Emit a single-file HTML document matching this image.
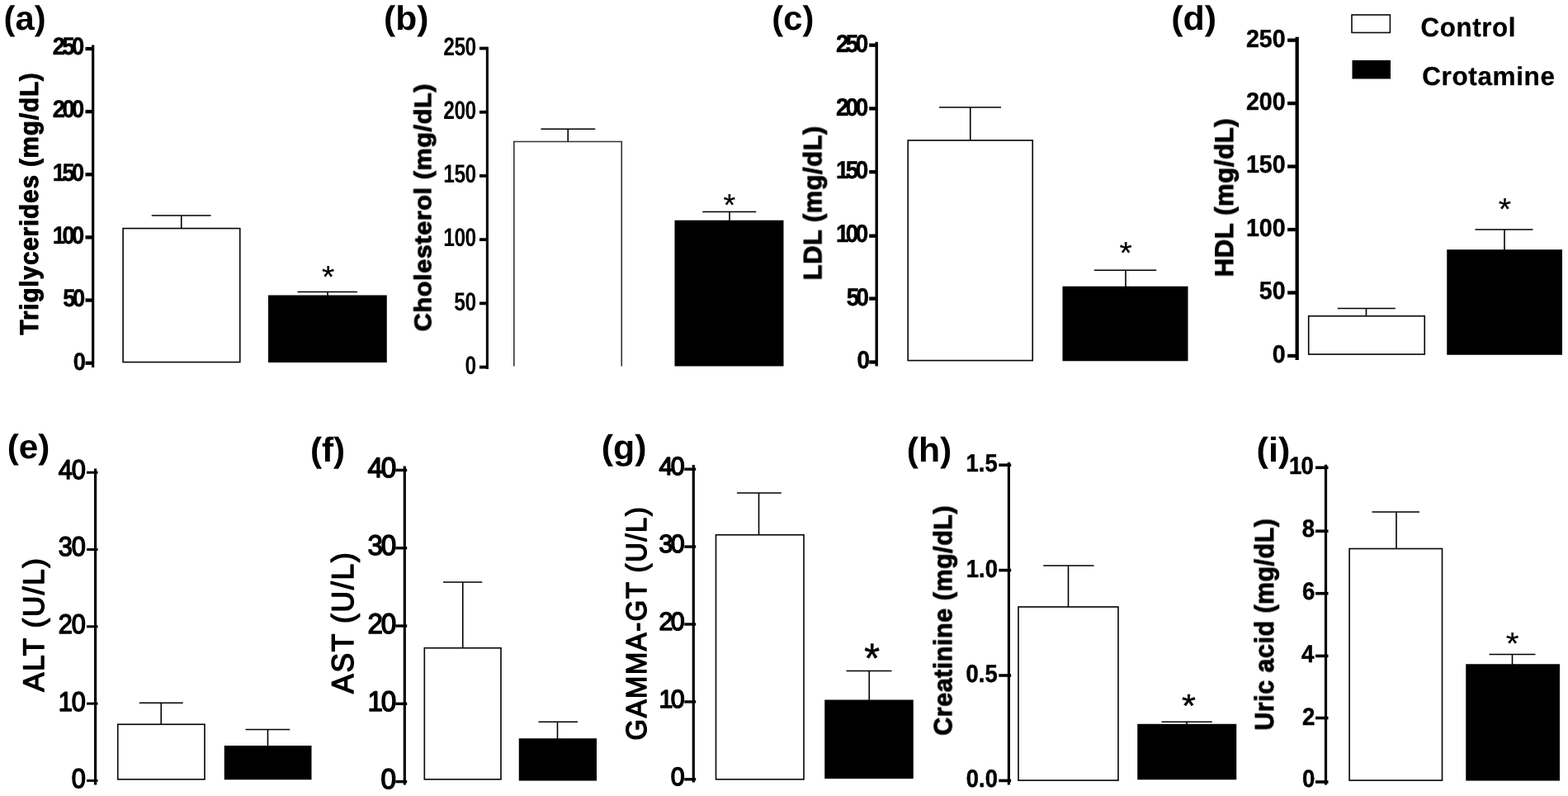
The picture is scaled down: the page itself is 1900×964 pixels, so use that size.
<!DOCTYPE html>
<html lang="en">
<head>
<meta charset="utf-8">
<title>Serum biochemistry: Control vs Crotamine</title>
<style>
html,body{margin:0;padding:0;background:#fff;}
body{width:1900px;height:964px;overflow:hidden;}
svg{display:block;font-family:"Liberation Sans", sans-serif;}
svg text{white-space:pre;}
</style>
</head>
<body>
<svg width="1900" height="964" viewBox="0 0 1900 964" shape-rendering="geometricPrecision" text-rendering="geometricPrecision">
<defs><filter id="soft" x="-2%" y="-2%" width="104%" height="104%" color-interpolation-filters="sRGB"><feGaussianBlur stdDeviation="0.65"/></filter></defs>
<rect width="1900" height="964" fill="#fff"/>
<g filter="url(#soft)">
<g class="panel" id="panel-a">
<text transform="translate(45.85 405.4) rotate(-90) scale(0.95 1)" font-size="31.17" font-weight="bold" letter-spacing="0.03em" fill="#000" stroke="#000" stroke-width="1" stroke-linejoin="round">Triglycerides (mg/dL)</text>
<text transform="matrix(0.92 0 0 1 63.82 65.95)" font-size="29.72" font-weight="bold" letter-spacing="-0.13em" fill="#000" stroke="#000" stroke-width="0.5" stroke-linejoin="round">250</text>
<line x1="103.5" y1="59.06" x2="112.65" y2="59.06" stroke="#000" stroke-width="4.3"/>
<text transform="matrix(0.92 0 0 1 63.82 142.33)" font-size="29.72" font-weight="bold" letter-spacing="-0.13em" fill="#000" stroke="#000" stroke-width="0.5" stroke-linejoin="round">200</text>
<line x1="103.5" y1="135.19" x2="112.65" y2="135.19" stroke="#000" stroke-width="4.3"/>
<text transform="matrix(0.92 0 0 1 63.82 218.71)" font-size="29.72" font-weight="bold" letter-spacing="-0.13em" fill="#000" stroke="#000" stroke-width="0.5" stroke-linejoin="round">150</text>
<line x1="103.5" y1="211.32" x2="112.65" y2="211.32" stroke="#000" stroke-width="4.3"/>
<text transform="matrix(0.92 0 0 1 63.82 295.09)" font-size="29.72" font-weight="bold" letter-spacing="-0.13em" fill="#000" stroke="#000" stroke-width="0.5" stroke-linejoin="round">100</text>
<line x1="103.5" y1="287.44" x2="112.65" y2="287.44" stroke="#000" stroke-width="4.3"/>
<text transform="matrix(0.92 0 0 1 76.28 371.47)" font-size="29.72" font-weight="bold" letter-spacing="-0.13em" fill="#000" stroke="#000" stroke-width="0.5" stroke-linejoin="round">50</text>
<line x1="103.5" y1="363.57" x2="112.65" y2="363.57" stroke="#000" stroke-width="4.3"/>
<text transform="matrix(0.92 0 0 1 88.73 447.85)" font-size="29.72" font-weight="bold" letter-spacing="-0.13em" fill="#000" stroke="#000" stroke-width="0.5" stroke-linejoin="round">0</text>
<line x1="103.5" y1="439.7" x2="112.65" y2="439.7" stroke="#000" stroke-width="4.3"/>
<line x1="112.65" y1="54.6" x2="112.65" y2="445" stroke="#000" stroke-width="3.2"/>
<line x1="219.75" y1="261" x2="219.75" y2="276.78" stroke="#000" stroke-width="1.6"/>
<line x1="183.75" y1="261" x2="255.5" y2="261" stroke="#000" stroke-width="1.6"/>
<rect x="149.1" y="276.6" width="141.65" height="161.95" fill="#fff" stroke="#0a0a0a" stroke-width="1.65"/>
<line x1="397" y1="353.5" x2="397" y2="358.5" stroke="#000" stroke-width="1.6"/>
<line x1="360.5" y1="353.5" x2="433" y2="353.5" stroke="#000" stroke-width="1.6"/>
<rect x="325" y="357.5" width="143.75" height="81.5" fill="#000"/>
<text transform="matrix(1.05 0 0 1 389.91 347.82)" font-size="37.5" font-weight="normal" fill="#000" stroke="#000" stroke-width="0.2" stroke-linejoin="round">*</text>
</g>
<g class="panel" id="panel-b">
<text transform="translate(522.25 401.22) rotate(-90) scale(1.06 1)" font-size="28.83" font-weight="bold" letter-spacing="0.02em" fill="#000" stroke="#000" stroke-width="1" stroke-linejoin="round">Cholesterol (mg/dL)</text>
<text transform="matrix(0.79 0 0 1 537.2 66.8)" font-size="31.13" font-weight="bold" letter-spacing="-0.02em" fill="#000">250</text>
<line x1="581" y1="58.55" x2="590.4" y2="58.55" stroke="#000" stroke-width="3.8"/>
<text transform="matrix(0.79 0 0 1 537.2 144)" font-size="31.13" font-weight="bold" letter-spacing="-0.02em" fill="#000">200</text>
<line x1="581" y1="135.76" x2="590.4" y2="135.76" stroke="#000" stroke-width="3.8"/>
<text transform="matrix(0.79 0 0 1 537.2 221.2)" font-size="31.13" font-weight="bold" letter-spacing="-0.02em" fill="#000">150</text>
<line x1="581" y1="212.97" x2="590.4" y2="212.97" stroke="#000" stroke-width="3.8"/>
<text transform="matrix(0.79 0 0 1 537.2 298.4)" font-size="31.13" font-weight="bold" letter-spacing="-0.02em" fill="#000">100</text>
<line x1="581" y1="290.18" x2="590.4" y2="290.18" stroke="#000" stroke-width="3.8"/>
<text transform="matrix(0.79 0 0 1 550.34 375.6)" font-size="31.13" font-weight="bold" letter-spacing="-0.02em" fill="#000">50</text>
<line x1="581" y1="367.39" x2="590.4" y2="367.39" stroke="#000" stroke-width="3.8"/>
<text transform="matrix(0.79 0 0 1 563.47 452.8)" font-size="31.13" font-weight="bold" letter-spacing="-0.02em" fill="#000">0</text>
<line x1="581" y1="444.6" x2="590.4" y2="444.6" stroke="#000" stroke-width="3.8"/>
<line x1="590.4" y1="56.85" x2="590.4" y2="446.9" stroke="#000" stroke-width="3.1"/>
<line x1="688.25" y1="156.25" x2="688.25" y2="171.7" stroke="#000" stroke-width="1.6"/>
<line x1="655.5" y1="156.25" x2="721.25" y2="156.25" stroke="#000" stroke-width="1.6"/>
<path d="M622.8 443.5 V171.5 H753.25 V443.5" fill="none" stroke="#333" stroke-width="1.6"/>
<line x1="884" y1="256.5" x2="884" y2="267.75" stroke="#000" stroke-width="1.6"/>
<line x1="851.25" y1="256.5" x2="916.25" y2="256.5" stroke="#000" stroke-width="1.6"/>
<rect x="817.5" y="266.75" width="132" height="176.75" fill="#000"/>
<text transform="matrix(1.01 0 0 1 876.62 260.52)" font-size="37.5" font-weight="normal" fill="#000" stroke="#000" stroke-width="0.2" stroke-linejoin="round">*</text>
</g>
<g class="panel" id="panel-c">
<text transform="translate(995.38 339.35) rotate(-90) scale(0.99 1)" font-size="31.06" font-weight="bold" letter-spacing="0.02em" fill="#000" stroke="#000" stroke-width="1" stroke-linejoin="round">LDL (mg/dL)</text>
<text transform="matrix(0.93 0 0 1 1012.98 62.85)" font-size="30" font-weight="bold" letter-spacing="-0.13em" fill="#000" stroke="#000" stroke-width="0.5" stroke-linejoin="round">250</text>
<line x1="1053.2" y1="54.7" x2="1062.2" y2="54.7" stroke="#000" stroke-width="4.3"/>
<text transform="matrix(0.93 0 0 1 1012.98 139.54)" font-size="30" font-weight="bold" letter-spacing="-0.13em" fill="#000" stroke="#000" stroke-width="0.5" stroke-linejoin="round">200</text>
<line x1="1053.2" y1="131.46" x2="1062.2" y2="131.46" stroke="#000" stroke-width="4.3"/>
<text transform="matrix(0.93 0 0 1 1012.98 216.23)" font-size="30" font-weight="bold" letter-spacing="-0.13em" fill="#000" stroke="#000" stroke-width="0.5" stroke-linejoin="round">150</text>
<line x1="1053.2" y1="208.22" x2="1062.2" y2="208.22" stroke="#000" stroke-width="4.3"/>
<text transform="matrix(0.93 0 0 1 1012.98 292.93)" font-size="30" font-weight="bold" letter-spacing="-0.13em" fill="#000" stroke="#000" stroke-width="0.5" stroke-linejoin="round">100</text>
<line x1="1053.2" y1="285.7" x2="1062.2" y2="285.7" stroke="#000" stroke-width="4.3"/>
<text transform="matrix(0.93 0 0 1 1025.7 369.62)" font-size="30" font-weight="bold" letter-spacing="-0.13em" fill="#000" stroke="#000" stroke-width="0.5" stroke-linejoin="round">50</text>
<line x1="1053.2" y1="361.6" x2="1062.2" y2="361.6" stroke="#000" stroke-width="4.3"/>
<text transform="matrix(0.93 0 0 1 1038.41 446.31)" font-size="30" font-weight="bold" letter-spacing="-0.13em" fill="#000" stroke="#000" stroke-width="0.5" stroke-linejoin="round">0</text>
<line x1="1053.2" y1="438.5" x2="1062.2" y2="438.5" stroke="#000" stroke-width="4.3"/>
<line x1="1062.2" y1="50.8" x2="1062.2" y2="443.5" stroke="#000" stroke-width="3.4"/>
<line x1="1175.75" y1="130" x2="1175.75" y2="170.18" stroke="#000" stroke-width="1.6"/>
<line x1="1138" y1="130" x2="1213" y2="130" stroke="#000" stroke-width="1.6"/>
<rect x="1100.2" y="170" width="151.05" height="266.6" fill="#fff" stroke="#0a0a0a" stroke-width="1.65"/>
<line x1="1364" y1="327.25" x2="1364" y2="347.75" stroke="#000" stroke-width="1.6"/>
<line x1="1325.75" y1="327.25" x2="1401.25" y2="327.25" stroke="#000" stroke-width="1.6"/>
<rect x="1287.5" y="346.75" width="152" height="90.5" fill="#000"/>
<text transform="matrix(1.05 0 0 1 1356.56 318.73)" font-size="37.5" font-weight="normal" fill="#000" stroke="#000" stroke-width="0.2" stroke-linejoin="round">*</text>
</g>
<g class="panel" id="panel-d">
<text transform="translate(1494.11 335.36) rotate(-90) scale(0.99 1)" font-size="31.38" font-weight="bold" letter-spacing="0.02em" fill="#000" stroke="#000" stroke-width="1" stroke-linejoin="round">HDL (mg/dL)</text>
<text transform="matrix(0.95 0 0 1 1509.9 56.6)" font-size="30.14" font-weight="bold" fill="#000" stroke="#000" stroke-width="0.4" stroke-linejoin="round">250</text>
<line x1="1560.1" y1="48.7" x2="1571.7" y2="48.7" stroke="#000" stroke-width="4.3"/>
<text transform="matrix(0.95 0 0 1 1509.9 133.04)" font-size="30.14" font-weight="bold" fill="#000" stroke="#000" stroke-width="0.4" stroke-linejoin="round">200</text>
<line x1="1560.1" y1="125.15" x2="1571.7" y2="125.15" stroke="#000" stroke-width="4.3"/>
<text transform="matrix(0.95 0 0 1 1509.9 209.48)" font-size="30.14" font-weight="bold" fill="#000" stroke="#000" stroke-width="0.4" stroke-linejoin="round">150</text>
<line x1="1560.1" y1="201.6" x2="1571.7" y2="201.6" stroke="#000" stroke-width="4.3"/>
<text transform="matrix(0.95 0 0 1 1509.9 285.92)" font-size="30.14" font-weight="bold" fill="#000" stroke="#000" stroke-width="0.4" stroke-linejoin="round">100</text>
<line x1="1560.1" y1="278.05" x2="1571.7" y2="278.05" stroke="#000" stroke-width="4.3"/>
<text transform="matrix(0.95 0 0 1 1525.87 362.36)" font-size="30.14" font-weight="bold" fill="#000" stroke="#000" stroke-width="0.4" stroke-linejoin="round">50</text>
<line x1="1560.1" y1="354.5" x2="1571.7" y2="354.5" stroke="#000" stroke-width="4.3"/>
<text transform="matrix(0.95 0 0 1 1541.83 438.8)" font-size="30.14" font-weight="bold" fill="#000" stroke="#000" stroke-width="0.4" stroke-linejoin="round">0</text>
<line x1="1560.1" y1="430.95" x2="1571.7" y2="430.95" stroke="#000" stroke-width="4.3"/>
<line x1="1571.7" y1="44.8" x2="1571.7" y2="436" stroke="#000" stroke-width="4.3"/>
<line x1="1655.5" y1="373.5" x2="1655.5" y2="382.93" stroke="#000" stroke-width="1.6"/>
<line x1="1620.75" y1="373.5" x2="1690.75" y2="373.5" stroke="#000" stroke-width="1.6"/>
<rect x="1585.7" y="382.75" width="140.55" height="46.31" fill="#fff" stroke="#0a0a0a" stroke-width="1.65"/>
<line x1="1823" y1="278" x2="1823" y2="303.25" stroke="#000" stroke-width="1.6"/>
<line x1="1787.5" y1="278" x2="1857.5" y2="278" stroke="#000" stroke-width="1.6"/>
<rect x="1753.25" y="302.25" width="139.75" height="127.5" fill="#000"/>
<text transform="matrix(1.05 0 0 1 1815.76 266.23)" font-size="37.5" font-weight="normal" fill="#000" stroke="#000" stroke-width="0.2" stroke-linejoin="round">*</text>
</g>
<g class="panel" id="panel-e">
<text transform="translate(52.99 837.65) rotate(-90) scale(0.98 1)" font-size="35.53" font-weight="normal" letter-spacing="0.05em" fill="#000" stroke="#000" stroke-width="1.5" stroke-linejoin="round">ALT (U/L)</text>
<text transform="matrix(0.93 0 0 1 70.74 579.77)" font-size="32.96" font-weight="normal" letter-spacing="-0.03em" fill="#000" stroke="#000" stroke-width="1.5" stroke-linejoin="round">40</text>
<line x1="105" y1="572.2" x2="118.5" y2="572.2" stroke="#000" stroke-width="3"/>
<text transform="matrix(0.93 0 0 1 70.74 673.42)" font-size="32.96" font-weight="normal" letter-spacing="-0.03em" fill="#000" stroke="#000" stroke-width="1.5" stroke-linejoin="round">30</text>
<line x1="105" y1="665.5" x2="118.5" y2="665.5" stroke="#000" stroke-width="3"/>
<text transform="matrix(0.93 0 0 1 70.74 767.07)" font-size="32.96" font-weight="normal" letter-spacing="-0.03em" fill="#000" stroke="#000" stroke-width="1.5" stroke-linejoin="round">20</text>
<line x1="105" y1="758.8" x2="118.5" y2="758.8" stroke="#000" stroke-width="3"/>
<text transform="matrix(0.93 0 0 1 70.74 860.72)" font-size="32.96" font-weight="normal" letter-spacing="-0.03em" fill="#000" stroke="#000" stroke-width="1.5" stroke-linejoin="round">10</text>
<line x1="105" y1="852.1" x2="118.5" y2="852.1" stroke="#000" stroke-width="3"/>
<text transform="matrix(0.93 0 0 1 86.84 954.37)" font-size="32.96" font-weight="normal" letter-spacing="-0.03em" fill="#000" stroke="#000" stroke-width="1.5" stroke-linejoin="round">0</text>
<line x1="105" y1="945.4" x2="118.5" y2="945.4" stroke="#000" stroke-width="3"/>
<line x1="115.6" y1="567.5" x2="115.6" y2="950.4" stroke="#000" stroke-width="3.2"/>
<line x1="195.25" y1="851.25" x2="195.25" y2="877.42" stroke="#000" stroke-width="1.6"/>
<line x1="168.75" y1="851.25" x2="221.75" y2="851.25" stroke="#000" stroke-width="1.6"/>
<rect x="142.75" y="877.25" width="105.25" height="66.55" fill="#fff" stroke="#0a0a0a" stroke-width="1.65"/>
<line x1="324.5" y1="883.5" x2="324.5" y2="904" stroke="#000" stroke-width="1.6"/>
<line x1="297.5" y1="883.5" x2="351.25" y2="883.5" stroke="#000" stroke-width="1.6"/>
<rect x="271.75" y="903" width="105.75" height="41.25" fill="#000"/>
</g>
<g class="panel" id="panel-f">
<text transform="translate(427.83 839.95) rotate(-90) scale(0.95 1)" font-size="37.23" font-weight="normal" letter-spacing="0.05em" fill="#000" stroke="#000" stroke-width="1.5" stroke-linejoin="round">AST (U/L)</text>
<text transform="matrix(0.97 0 0 1 445.49 578.11)" font-size="34.23" font-weight="normal" letter-spacing="-0.07em" fill="#000" stroke="#000" stroke-width="1.5" stroke-linejoin="round">40</text>
<line x1="479.3" y1="569.4" x2="493.2" y2="569.4" stroke="#000" stroke-width="3.4"/>
<text transform="matrix(0.97 0 0 1 445.49 672.43)" font-size="34.23" font-weight="normal" letter-spacing="-0.07em" fill="#000" stroke="#000" stroke-width="1.5" stroke-linejoin="round">30</text>
<line x1="479.3" y1="663.7" x2="493.2" y2="663.7" stroke="#000" stroke-width="3.4"/>
<text transform="matrix(0.97 0 0 1 445.49 766.76)" font-size="34.23" font-weight="normal" letter-spacing="-0.07em" fill="#000" stroke="#000" stroke-width="1.5" stroke-linejoin="round">20</text>
<line x1="479.3" y1="758" x2="493.2" y2="758" stroke="#000" stroke-width="3.4"/>
<text transform="matrix(0.97 0 0 1 445.49 861.08)" font-size="34.23" font-weight="normal" letter-spacing="-0.07em" fill="#000" stroke="#000" stroke-width="1.5" stroke-linejoin="round">10</text>
<line x1="479.3" y1="852.3" x2="493.2" y2="852.3" stroke="#000" stroke-width="3.4"/>
<text transform="matrix(0.97 0 0 1 461.47 955.41)" font-size="34.23" font-weight="normal" letter-spacing="-0.07em" fill="#000" stroke="#000" stroke-width="1.5" stroke-linejoin="round">0</text>
<line x1="479.3" y1="946.6" x2="493.2" y2="946.6" stroke="#000" stroke-width="3.4"/>
<line x1="490.3" y1="564.5" x2="490.3" y2="950.4" stroke="#000" stroke-width="3.2"/>
<line x1="560.75" y1="705" x2="560.75" y2="784.92" stroke="#000" stroke-width="1.6"/>
<line x1="537" y1="705" x2="584.25" y2="705" stroke="#000" stroke-width="1.6"/>
<rect x="514.3" y="784.75" width="92.7" height="159.05" fill="#fff" stroke="#0a0a0a" stroke-width="1.65"/>
<line x1="675.5" y1="874.25" x2="675.5" y2="895.25" stroke="#000" stroke-width="1.6"/>
<line x1="652.5" y1="874.25" x2="700" y2="874.25" stroke="#000" stroke-width="1.6"/>
<rect x="628.75" y="894.25" width="94.25" height="51.25" fill="#000"/>
</g>
<g class="panel" id="panel-g">
<text transform="translate(783.14 896.39) rotate(-90) scale(0.94 1)" font-size="34.79" font-weight="normal" letter-spacing="0.05em" fill="#000" stroke="#000" stroke-width="1.5" stroke-linejoin="round">GAMMA-GT (U/L)</text>
<text transform="matrix(0.99 0 0 1 798.54 575.44)" font-size="30.7" font-weight="normal" letter-spacing="-0.09em" fill="#000" stroke="#000" stroke-width="1.5" stroke-linejoin="round">40</text>
<line x1="829.3" y1="568.2" x2="843.2" y2="568.2" stroke="#000" stroke-width="3.4"/>
<text transform="matrix(0.99 0 0 1 798.54 669.39)" font-size="30.7" font-weight="normal" letter-spacing="-0.09em" fill="#000" stroke="#000" stroke-width="1.5" stroke-linejoin="round">30</text>
<line x1="829.3" y1="662.1" x2="843.2" y2="662.1" stroke="#000" stroke-width="3.4"/>
<text transform="matrix(0.99 0 0 1 798.54 763.34)" font-size="30.7" font-weight="normal" letter-spacing="-0.09em" fill="#000" stroke="#000" stroke-width="1.5" stroke-linejoin="round">20</text>
<line x1="829.3" y1="756" x2="843.2" y2="756" stroke="#000" stroke-width="3.4"/>
<text transform="matrix(0.99 0 0 1 798.54 857.29)" font-size="30.7" font-weight="normal" letter-spacing="-0.09em" fill="#000" stroke="#000" stroke-width="1.5" stroke-linejoin="round">10</text>
<line x1="829.3" y1="849.9" x2="843.2" y2="849.9" stroke="#000" stroke-width="3.4"/>
<text transform="matrix(0.99 0 0 1 812.77 951.24)" font-size="30.7" font-weight="normal" letter-spacing="-0.09em" fill="#000" stroke="#000" stroke-width="1.5" stroke-linejoin="round">0</text>
<line x1="829.3" y1="943.8" x2="843.2" y2="943.8" stroke="#000" stroke-width="3.4"/>
<line x1="840.3" y1="563" x2="840.3" y2="947.6" stroke="#000" stroke-width="3.2"/>
<line x1="919.5" y1="597" x2="919.5" y2="647.92" stroke="#000" stroke-width="1.6"/>
<line x1="893" y1="597" x2="946.75" y2="597" stroke="#000" stroke-width="1.6"/>
<rect x="867.5" y="647.75" width="106.5" height="296.05" fill="#fff" stroke="#0a0a0a" stroke-width="1.65"/>
<line x1="1053.25" y1="812.5" x2="1053.25" y2="848.5" stroke="#000" stroke-width="1.6"/>
<line x1="1025.5" y1="812.5" x2="1080.5" y2="812.5" stroke="#000" stroke-width="1.6"/>
<rect x="999.25" y="847.5" width="107.5" height="95.5" fill="#000"/>
<text transform="matrix(0.97 0 0 1 1047.17 814.36)" font-size="49.72" font-weight="normal" fill="#000" stroke="#000" stroke-width="0.6" stroke-linejoin="round">*</text>
</g>
<g class="panel" id="panel-h">
<text transform="translate(1153.2 890.71) rotate(-90) scale(0.98 1)" font-size="30.96" font-weight="bold" letter-spacing="0.02em" fill="#000" stroke="#000" stroke-width="1" stroke-linejoin="round">Creatinine (mg/dL)</text>
<text transform="matrix(0.91 0 0 1 1170.55 571.05)" font-size="30.14" font-weight="bold" fill="#000" stroke="#000" stroke-width="0.5" stroke-linejoin="round">1.5</text>
<line x1="1210.3" y1="563.2" x2="1225.2" y2="563.2" stroke="#000" stroke-width="3.6"/>
<text transform="matrix(0.91 0 0 1 1170.83 698.6)" font-size="30.14" font-weight="bold" fill="#000" stroke="#000" stroke-width="0.5" stroke-linejoin="round">1.0</text>
<line x1="1210.3" y1="690.6" x2="1225.2" y2="690.6" stroke="#000" stroke-width="3.6"/>
<text transform="matrix(0.91 0 0 1 1170.55 826)" font-size="30.14" font-weight="bold" fill="#000" stroke="#000" stroke-width="0.5" stroke-linejoin="round">0.5</text>
<line x1="1210.3" y1="818" x2="1225.2" y2="818" stroke="#000" stroke-width="3.6"/>
<text transform="matrix(0.91 0 0 1 1170.83 953.4)" font-size="30.14" font-weight="bold" fill="#000" stroke="#000" stroke-width="0.5" stroke-linejoin="round">0.0</text>
<line x1="1210.3" y1="945.4" x2="1225.2" y2="945.4" stroke="#000" stroke-width="3.6"/>
<line x1="1222.4" y1="559.8" x2="1222.4" y2="950.4" stroke="#000" stroke-width="3.2"/>
<line x1="1294.5" y1="685" x2="1294.5" y2="735.17" stroke="#000" stroke-width="1.6"/>
<line x1="1264.25" y1="685" x2="1325.5" y2="685" stroke="#000" stroke-width="1.6"/>
<rect x="1234" y="735" width="121" height="210.06" fill="#fff" stroke="#0a0a0a" stroke-width="1.65"/>
<line x1="1438" y1="874.25" x2="1438" y2="877.75" stroke="#000" stroke-width="1.6"/>
<line x1="1407.5" y1="874.25" x2="1468.75" y2="874.25" stroke="#000" stroke-width="1.6"/>
<rect x="1378.25" y="876.75" width="120" height="67.5" fill="#000"/>
<text transform="matrix(1.1 0 0 1 1432.11 867.72)" font-size="39.44" font-weight="normal" fill="#000" stroke="#000" stroke-width="0.5" stroke-linejoin="round">*</text>
</g>
<g class="panel" id="panel-i">
<text transform="translate(1542.95 884.51) rotate(-90) scale(0.94 1)" font-size="32.13" font-weight="bold" letter-spacing="0.02em" fill="#000" stroke="#000" stroke-width="1" stroke-linejoin="round">Uric acid (mg/dL)</text>
<text transform="matrix(0.93 0 0 1 1561.91 574.3)" font-size="29.72" font-weight="bold" letter-spacing="-0.03em" fill="#000" stroke="#000" stroke-width="0.5" stroke-linejoin="round">10</text>
<line x1="1594" y1="566.3" x2="1609.5" y2="566.3" stroke="#000" stroke-width="3.6"/>
<text transform="matrix(0.93 0 0 1 1577.79 650.09)" font-size="29.72" font-weight="bold" letter-spacing="-0.03em" fill="#000" stroke="#000" stroke-width="0.5" stroke-linejoin="round">8</text>
<line x1="1594" y1="643.2" x2="1609.5" y2="643.2" stroke="#000" stroke-width="3.6"/>
<text transform="matrix(0.93 0 0 1 1578.07 725.88)" font-size="29.72" font-weight="bold" letter-spacing="-0.03em" fill="#000" stroke="#000" stroke-width="0.5" stroke-linejoin="round">6</text>
<line x1="1594" y1="718.7" x2="1609.5" y2="718.7" stroke="#000" stroke-width="3.6"/>
<text transform="matrix(0.93 0 0 1 1576.96 801.67)" font-size="29.72" font-weight="bold" letter-spacing="-0.03em" fill="#000" stroke="#000" stroke-width="0.5" stroke-linejoin="round">4</text>
<line x1="1594" y1="794.4" x2="1609.5" y2="794.4" stroke="#000" stroke-width="3.6"/>
<text transform="matrix(0.93 0 0 1 1578.07 877.61)" font-size="29.72" font-weight="bold" letter-spacing="-0.03em" fill="#000" stroke="#000" stroke-width="0.5" stroke-linejoin="round">2</text>
<line x1="1594" y1="869.5" x2="1609.5" y2="869.5" stroke="#000" stroke-width="3.6"/>
<text transform="matrix(0.93 0 0 1 1578.07 953.25)" font-size="29.72" font-weight="bold" letter-spacing="-0.03em" fill="#000" stroke="#000" stroke-width="0.5" stroke-linejoin="round">0</text>
<line x1="1594" y1="946.95" x2="1609.5" y2="946.95" stroke="#000" stroke-width="3.6"/>
<line x1="1606.5" y1="562.8" x2="1606.5" y2="950.4" stroke="#000" stroke-width="3.2"/>
<line x1="1692" y1="620" x2="1692" y2="664.67" stroke="#000" stroke-width="1.6"/>
<line x1="1662.5" y1="620" x2="1720" y2="620" stroke="#000" stroke-width="1.6"/>
<rect x="1635.1" y="664.5" width="112.4" height="280.56" fill="#fff" stroke="#0a0a0a" stroke-width="1.65"/>
<line x1="1832.5" y1="792.5" x2="1832.5" y2="805.25" stroke="#000" stroke-width="1.6"/>
<line x1="1804.5" y1="792.5" x2="1860.5" y2="792.5" stroke="#000" stroke-width="1.6"/>
<rect x="1776.25" y="804.25" width="113.75" height="141.25" fill="#000"/>
<text transform="matrix(1.08 0 0 1 1824.79 791.73)" font-size="37.5" font-weight="normal" fill="#000" stroke="#000" stroke-width="0.2" stroke-linejoin="round">*</text>
</g>
<g id="labels">
<text transform="matrix(1.02 0 0 1 4.58 35.9)" font-size="40.96" font-weight="bold" fill="#000">(a)</text>
<text transform="matrix(1.04 0 0 1 465.09 35.9)" font-size="40.96" font-weight="bold" fill="#000">(b)</text>
<text transform="matrix(1.02 0 0 1 935.33 35.9)" font-size="40.96" font-weight="bold" fill="#000">(c)</text>
<text transform="matrix(1.05 0 0 1 1419.27 35.9)" font-size="40.96" font-weight="bold" fill="#000">(d)</text>
<text transform="matrix(1.03 0 0 1 8.7 555.28)" font-size="41.06" font-weight="bold" fill="#000">(e)</text>
<text transform="matrix(1.01 0 0 1 375.91 558.6)" font-size="41.91" font-weight="bold" fill="#000">(f)</text>
<text transform="matrix(1.03 0 0 1 728.67 555.54)" font-size="41.7" font-weight="bold" fill="#000">(g)</text>
<text transform="matrix(1.02 0 0 1 1098.68 558.6)" font-size="41.91" font-weight="bold" fill="#000">(h)</text>
<text transform="matrix(1.03 0 0 1 1522.57 558.6)" font-size="41.91" font-weight="bold" fill="#000">(i)</text>
</g>
<g id="legend">
<rect x="1638" y="18" width="46.4" height="21.5" fill="#fff" stroke="#0a0a0a" stroke-width="1.6"/>
<text transform="matrix(0.97 0 0 1 1721.39 43.63)" font-size="32.3" font-weight="bold" letter-spacing="0.02em" fill="#000" stroke="#000" stroke-width="0.3" stroke-linejoin="round">Control</text>
<rect x="1638.5" y="73" width="46.5" height="22.5" fill="#000"/>
<text transform="matrix(1 0 0 1 1723.15 103.34)" font-size="31.49" font-weight="bold" letter-spacing="0.02em" fill="#000" stroke="#000" stroke-width="0.3" stroke-linejoin="round">Crotamine</text>
</g>
</g>
</svg>
</body>
</html>
